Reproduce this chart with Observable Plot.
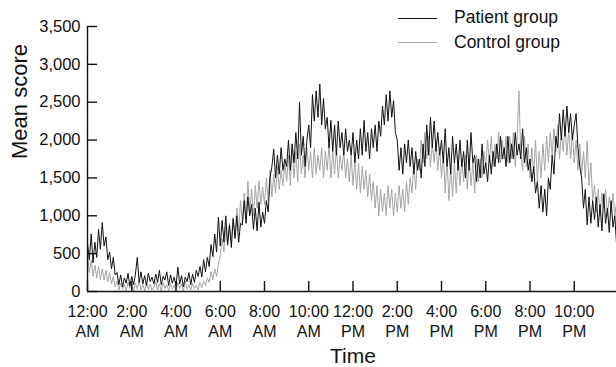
<!DOCTYPE html>
<html><head><meta charset="utf-8">
<script src="https://cdn.jsdelivr.net/npm/d3@7"></script>
<script src="https://cdn.jsdelivr.net/npm/@observablehq/plot@0.6"></script>
<style>
body{margin:0;background:#fff;font-family:"Liberation Sans",Arial,Helvetica,sans-serif;}
#wrap{position:relative;width:616px;height:367px;overflow:hidden;background:#fff;}
#legend{position:absolute;left:398px;top:6px;font-size:17.5px;color:#111;line-height:1;}
.row{display:flex;align-items:center;height:24.4px;white-space:nowrap;}
.sw{display:inline-block;width:39px;height:0;border-top:1.5px solid;margin-right:17px;}
</style></head><body><div id="wrap"><div id="legend"></div></div>
<script>
const seriesNames = ["Patient group", "Control group"];
const seriesColors = ["#111111", "#a5a5a5"];
const tickHours = [0, 2, 4, 6, 8, 10, 12, 14, 16, 18, 20, 22];
const tickLabels = ["12:00\nAM", "2:00\nAM", "4:00\nAM", "6:00\nAM", "8:00\nAM", "10:00\nAM",
  "12:00\nPM", "2:00\nPM", "4:00\nPM", "6:00\nPM", "8:00\nPM", "10:00\nPM"];
const yTicks = [0, 500, 1000, 1500, 2000, 2500, 3000, 3500];
const stepMinutes = 5;

// Patient group, 5-minute values, one row per hour
const patient = [
  640, 420, 760, 380, 650, 450, 820, 560, 910, 600, 720, 420,
  520, 300, 450, 220, 250, 90, 220, 60, 180, 110, 240, 70,
  200, 90, 230, 450, 120, 260, 100, 210, 80, 240, 130, 190,
  100, 230, 120, 280, 90, 200, 150, 260, 80, 220, 110, 190,
  70, 320, 100, 210, 60, 190, 130, 250, 90, 230, 120, 280,
  200, 330, 190, 420, 260, 450, 330, 620, 460, 760, 520, 980,
  600, 940, 650, 1000, 620, 880, 580, 960, 700, 1000, 650, 900,
  880, 1200, 900, 1250, 1000, 1150, 820, 1100, 800, 1180, 850, 1050,
  900, 1200, 1050, 1500, 1650, 1880, 1500, 1800, 1550, 1900, 1600, 1750,
  1650, 2000, 1600, 1950, 1700, 2100, 1750, 2500, 1800, 2050, 1650, 2000,
  2200, 1900, 2600, 2250, 2650, 2300, 2740, 2200, 2550, 2150, 2300, 1900,
  2260, 1850, 2200, 1800, 2250, 1900, 2100, 1800, 2150, 1850, 2000, 1800,
  2100, 1700, 2000, 1750, 2150, 1800, 2260, 1850, 2100, 1750, 2150, 1900,
  2200, 1850, 2250, 2050, 2450, 2200, 2600, 2250, 2650, 2300, 2520, 2100,
  2000, 1600, 1900, 1550, 1950, 1700, 2000, 1650, 1900, 1550, 1850, 1600,
  1750, 1500, 1950, 1650, 2200, 1800, 2300, 1900, 2250, 1850, 2100, 1800,
  2000, 1700, 2150, 1650, 1900, 1550, 2050, 1700, 1950, 1600, 2000, 1650,
  1850, 1500, 2000, 1600, 2100, 1700, 1800, 1450, 1750, 1500, 1950, 1550,
  1700, 1450, 1800, 1550, 1850, 1650, 1950, 1700, 2050, 1750, 1900, 1650,
  2050, 1700, 1950, 1750, 2100, 1800, 1950, 1750, 2150, 1700, 1900, 1600,
  1750, 1450, 1650, 1300, 1450, 1100, 1400, 1050, 1350, 1000, 1500, 1350,
  1800, 1550, 2050, 1900, 2350, 2000, 2400, 2050, 2450, 2100, 2350, 2000,
  2200, 2350, 1900, 1650, 1500, 1100, 1350, 880, 1250, 900, 1200, 950,
  1250, 850, 1150, 800, 1290, 900, 1100, 780, 1200, 850, 1000, 600
];

// Control group, 5-minute values, one row per hour
const control = [
  480, 250, 420, 200, 350, 180, 330, 160, 300, 150, 280, 130,
  250, 100, 200, 60, 140, 20, 110, 30, 90, 10, 120, 40,
  80, 10, 110, 30, 140, 20, 90, 10, 120, 30, 100, 20,
  60, 130, 20, 100, 10, 120, 40, 90, 10, 110, 30, 80,
  20, 120, 40, 100, 10, 140, 30, 90, 20, 110, 40, 80,
  20, 120, 50, 140, 80, 180, 120, 260, 160, 300, 200, 360,
  480, 700, 520, 850, 600, 900, 650, 980, 760, 1100, 800, 1200,
  900, 1300, 950, 1460, 1050, 1350, 1000, 1400, 1100, 1460, 1150, 1380,
  1150, 1500, 1200, 1600, 1250, 1550, 1300, 1650, 1350, 1600, 1400, 1700,
  1450, 1800, 1400, 1900, 1500, 1850, 1450, 1950, 1550, 1800, 1500, 1900,
  1600, 1850, 1500, 1900, 1550, 1800, 1600, 1900, 1500, 1850, 1600, 1950,
  1500, 1850, 1550, 1900, 1500, 1800, 1600, 1850, 1500, 1750, 1450, 1800,
  1400, 1750, 1350, 1700, 1300, 1650, 1350, 1600, 1250, 1550, 1200, 1450,
  1100, 1400, 1000, 1350, 1050, 1300, 1000, 1400, 1100, 1350, 1000, 1300,
  1050, 1400, 1100, 1350, 1050, 1450, 1150, 1500, 1300, 1700, 1350, 1750,
  1600, 2000, 1700, 2100, 1750, 2050, 1650, 1950, 1700, 2000, 1600, 1900,
  1500, 1850, 1300, 1750, 1200, 1650, 1250, 1700, 1300, 1800, 1400, 1750,
  1450, 1800, 1350, 1750, 1400, 1700, 1300, 1800, 1450, 1750, 1500, 1850,
  1650, 2000, 1700, 2050, 1650, 1950, 1750, 2100, 1700, 2000, 1750, 2050,
  1700, 2050, 1750, 2100, 1650, 2000, 2650, 1800, 1600, 2050, 1650, 1950,
  1500, 1900, 1550, 2000, 1450, 1850, 1500, 1950, 1600, 2050, 1700, 2100,
  1800, 2150, 1850, 2200, 1750, 2100, 1850, 2200, 1800, 2150, 1750, 2100,
  1700, 2000, 1600, 1950, 1550, 1850, 1500, 1990, 1400, 1700, 1200, 1400,
  1050, 1350, 1000, 1300, 1100, 1350, 1000, 1250, 1050, 1300, 1000, 1200
];

const toRows = (vals) => vals.map((v, i) => ({hour: i * stepMinutes / 60, value: v}));
const patientRows = toRows(patient);
const controlRows = toRows(control);

const fontFamily = '"Liberation Sans", Arial, Helvetica, sans-serif';

const W = 616, H = 367, mL = 87, mR = -2, mT = 26, mB = 76;
const xDomain = [0, 24], yDomain = [0, 3500];
const tickLen = 10; // px, inward ticks
const xTickLen = tickLen * (yDomain[1] - yDomain[0]) / (H - mT - mB);
const yTickLen = tickLen * (xDomain[1] - xDomain[0]) / (W - mL - mR);

const chart = Plot.plot({
  width: W,
  height: H,
  marginLeft: mL,
  marginRight: mR,
  marginTop: mT,
  marginBottom: mB,
  style: {fontFamily, background: "transparent", color: "#111"},
  x: {domain: xDomain},
  y: {domain: yDomain},
  marks: [
    Plot.lineY(controlRows, {x: "hour", y: "value", stroke: seriesColors[1], strokeWidth: 1}),
    Plot.lineY(patientRows, {x: "hour", y: "value", stroke: seriesColors[0], strokeWidth: 1}),
    Plot.ruleX([0], {stroke: "#111", strokeWidth: 1.4}),
    Plot.ruleY([0], {stroke: "#111", strokeWidth: 1.4}),
    Plot.ruleX(tickHours, {x: (d) => d, y1: 0, y2: xTickLen, stroke: "#111", strokeWidth: 1.4}),
    Plot.ruleY(yTicks, {y: (d) => d, x1: 0, x2: yTickLen, stroke: "#111", strokeWidth: 1.4}),
    Plot.axisX({
      ticks: tickHours,
      tickFormat: (d) => tickLabels[tickHours.indexOf(d)],
      tickSize: 0, tickPadding: 11, fontSize: 16, lineHeight: 1.25,
      label: null, fill: "#111"
    }),
    Plot.axisY({
      ticks: yTicks,
      tickFormat: d3.format(","),
      tickSize: 0, tickPadding: 7, fontSize: 16.5,
      label: null, fill: "#111"
    }),
    Plot.text(["Mean score"], {frameAnchor: "left", rotate: -90, dx: -68, fontSize: 22, fill: "#111"}),
    Plot.text(["Time"], {frameAnchor: "bottom", dy: 57, lineAnchor: "top", fontSize: 21, fill: "#111"})
  ]
});

document.getElementById("wrap").prepend(chart);

const legend = document.getElementById("legend");
seriesNames.forEach((name, i) => {
  const row = document.createElement("div");
  row.className = "row";
  const sw = document.createElement("span");
  sw.className = "sw";
  sw.style.borderTopColor = seriesColors[i];
  const label = document.createElement("span");
  label.textContent = name;
  row.append(sw, label);
  legend.append(row);
});
</script>
</body></html>
